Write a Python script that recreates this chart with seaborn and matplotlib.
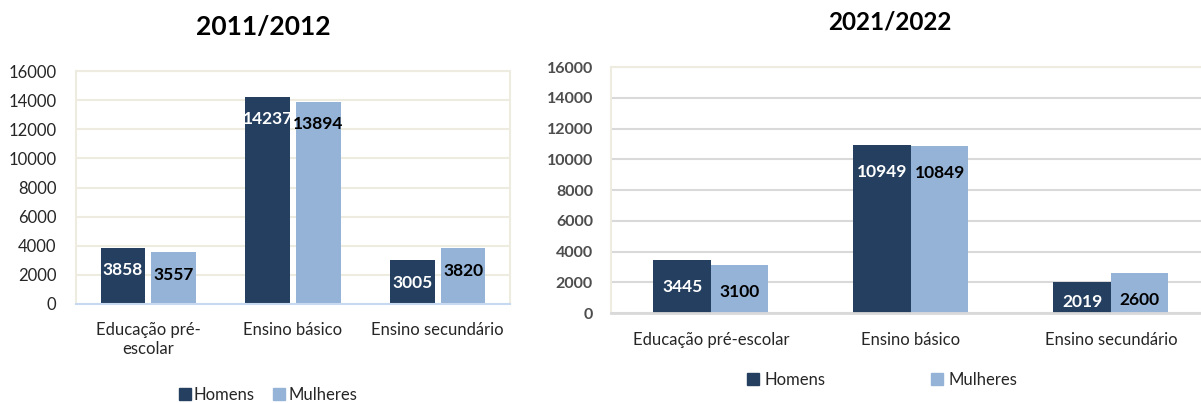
import matplotlib
matplotlib.use("Agg")
import matplotlib.pyplot as plt
from matplotlib.patches import Patch
import seaborn as sns
import pandas as pd

# data
categorias = ["Educação pré-\nescolar", "Ensino básico", "Ensino secundário"]
categorias_2021 = ["Educação pré-escolar", "Ensino básico", "Ensino secundário"]
sexos = ["Homens", "Mulheres"]
homens_2011 = [3858, 14237, 3005]
mulheres_2011 = [3557, 13894, 3820]
homens_2021 = [3445, 10949, 2019]
mulheres_2021 = [3100, 10849, 2600]

cor_homens = "#243F60"
cor_mulheres = "#95B3D7"
paleta = {"Homens": cor_homens, "Mulheres": cor_mulheres}

sns.set_theme(style="white")
plt.rcParams["font.family"] = ["Lato", "DejaVu Sans"]


def long_df(cats, h, m):
    return pd.DataFrame({"Categoria": cats * 2,
                         "Sexo": ["Homens"] * len(cats) + ["Mulheres"] * len(cats),
                         "Valor": h + m})


fig = plt.figure(figsize=(12.01, 4.03), dpi=100)

# ----- 2011/2012 -----
ax1 = fig.add_axes([0.0633, 0.2457, 0.3614, 0.578])
df1 = long_df(categorias, homens_2011, mulheres_2011)
sns.barplot(data=df1, x="Categoria", y="Valor", hue="Sexo", palette=paleta,
            width=0.70, gap=0.12, saturation=1, linewidth=0, legend=False, ax=ax1)
ax1.set_xlim(-0.5, 2.5)
ax1.set_ylim(0, 16000)
ax1.set_yticks(range(0, 16001, 2000))
ax1.set_xlabel("")
ax1.set_ylabel("")
ax1.grid(axis="y", color="#EEECE1", linewidth=1.5)
ax1.set_axisbelow(True)
for s in ["top", "left", "right"]:
    ax1.spines[s].set_color("#EEECE1")
    ax1.spines[s].set_linewidth(1.5)
ax1.spines["bottom"].set_color("#C6D9F1")
ax1.spines["bottom"].set_linewidth(1.5)
ax1.tick_params(axis="both", length=0, labelsize=12, colors="#262626")
ax1.tick_params(axis="y", pad=14)
ax1.tick_params(axis="x", pad=13)
for cont, cor in zip(ax1.containers, ["white", "black"]):
    for bar in cont:
        v = bar.get_height()
        ax1.text(bar.get_x() + bar.get_width() / 2, v - 1550, f"{v:.0f}",
                 ha="center", va="center", color=cor, fontsize=12.5, fontweight="bold")

fig.text(263 / 1201, 1 - 27 / 403, "2011/2012", ha="center", va="center",
         fontsize=19, fontweight="bold", color="black")
fig.legend(handles=[Patch(color=cor_homens), Patch(color=cor_mulheres)], labels=sexos,
           loc="center", bbox_to_anchor=(268 / 1201, 1 - 395 / 403), ncol=2,
           frameon=False, fontsize=12, handlelength=0.72, handleheight=0.72,
           handletextpad=0.2, columnspacing=1.1, borderpad=0, labelcolor="#262626")

# ----- 2021/2022 -----
ax2 = fig.add_axes([0.5087, 0.2233, 0.4913, 0.6104])
df2 = long_df(categorias_2021, homens_2021, mulheres_2021)
sns.barplot(data=df2, x="Categoria", y="Valor", hue="Sexo", palette=paleta,
            width=0.575, gap=0, saturation=1, linewidth=0, legend=False, ax=ax2)
ax2.set_xlim(-0.5, 2.45)
ax2.set_ylim(0, 16000)
ax2.set_yticks(range(0, 16001, 2000))
ax2.set_xlabel("")
ax2.set_ylabel("")
ax2.grid(axis="y", color="#D9D9D9", linewidth=1.5)
ax2.set_axisbelow(True)
ax2.spines["right"].set_visible(False)
for s in ["top", "left"]:
    ax2.spines[s].set_color("#EEECE1")
    ax2.spines[s].set_linewidth(1.5)
ax2.spines["bottom"].set_color("#D9D9D9")
ax2.spines["bottom"].set_linewidth(2)
ax2.tick_params(axis="both", length=0)
ax2.tick_params(axis="y", pad=13, labelsize=11.5, colors="#4D4D4D")
ax2.tick_params(axis="x", pad=14, labelsize=12, colors="#262626")
for lbl in ax2.get_yticklabels():
    lbl.set_fontweight("bold")
for cont, cor in zip(ax2.containers, ["white", "black"]):
    for bar in cont:
        v = bar.get_height()
        ax2.text(bar.get_x() + bar.get_width() / 2, max(v - 1750, 720), f"{v:.0f}",
                 ha="center", va="center", color=cor, fontsize=12.5, fontweight="bold")

fig.text(890 / 1201, 1 - 22 / 403, "2021/2022", ha="center", va="center",
         fontsize=17.5, fontweight="bold", color="black")
fig.legend(handles=[Patch(color=cor_homens), Patch(color=cor_mulheres)], labels=sexos,
           loc="center", bbox_to_anchor=(882 / 1201, 1 - 380 / 403), ncol=2,
           frameon=False, fontsize=12, handlelength=0.72, handleheight=0.72,
           handletextpad=0.35, columnspacing=6.3, borderpad=0, labelcolor="#262626")

fig.savefig("out.png", dpi=100, facecolor="white")
